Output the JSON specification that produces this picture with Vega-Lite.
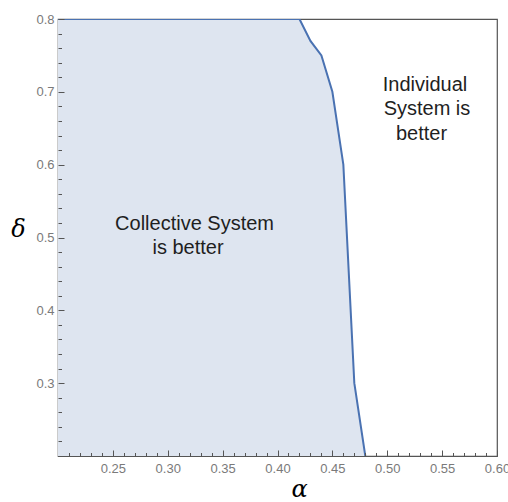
{
  "$schema": "https://vega.github.io/schema/vega-lite/v6.json",
  "width": 439,
  "height": 437,
  "autosize": "none",
  "padding": {"left": 58, "top": 19, "right": 11, "bottom": 46},
  "config": {
    "view": {"stroke": "#555555", "strokeWidth": 1.2},
    "font": "Liberation Sans"
  },
  "datasets": {
    "curve": [
      {"alpha": 0.2, "delta": 0.8},
      {"alpha": 0.42, "delta": 0.8},
      {"alpha": 0.43, "delta": 0.77},
      {"alpha": 0.44, "delta": 0.75},
      {"alpha": 0.45, "delta": 0.7},
      {"alpha": 0.46, "delta": 0.6},
      {"alpha": 0.47, "delta": 0.3},
      {"alpha": 0.48, "delta": 0.2}
    ],
    "labels": [
      {"alpha": 0.3244, "delta": 0.518, "label": "Collective System"},
      {"alpha": 0.3185, "delta": 0.4854, "label": "is better"},
      {"alpha": 0.5344, "delta": 0.709, "label": "Individual"},
      {"alpha": 0.5362, "delta": 0.676, "label": "System is"},
      {"alpha": 0.5312, "delta": 0.642, "label": "better"}
    ]
  },
  "resolve": {"axis": {"x": "independent", "y": "independent"}},
  "layer": [
    {
      "data": {"name": "curve"},
      "mark": {"type": "area", "color": "#dee5f0", "clip": true},
      "encoding": {
        "x": {
          "field": "alpha",
          "type": "quantitative",
          "scale": {"domain": [0.2, 0.6], "nice": false, "zero": false},
          "axis": {
            "orient": "bottom",
            "zindex": 1,
            "offset": -6,
            "domain": false,
            "title": "α",
            "titleFont": "DejaVu Serif",
            "titleFontStyle": "italic",
            "titleFontWeight": "normal",
            "titleFontSize": 24,
            "titleColor": "#000",
            "titleAngle": 0,
            "titleX": 241,
            "titleY": 39,
            "titleAlign": "center",
            "titleBaseline": "middle",
            "grid": false,
            "tickColor": "#555555",
            "values": [0.25, 0.3, 0.35, 0.4, 0.45, 0.5, 0.55, 0.6],
            "tickSize": 6,
            "format": ".2f",
            "labelColor": "#7a7a7a",
            "labelFontSize": 13,
            "labelPadding": 6,
            "labelFlush": false,
            "labelOverlap": false
          }
        },
        "y": {
          "field": "delta",
          "type": "quantitative",
          "scale": {"domain": [0.2, 0.8], "nice": false, "zero": false},
          "axis": {
            "orient": "left",
            "zindex": 1,
            "offset": -6,
            "domain": false,
            "title": "δ",
            "titleFont": "DejaVu Serif",
            "titleFontStyle": "italic",
            "titleFontWeight": "normal",
            "titleFontSize": 24,
            "titleColor": "#000",
            "titleAngle": 0,
            "titleX": -46,
            "titleY": 210,
            "titleAlign": "center",
            "titleBaseline": "middle",
            "grid": false,
            "tickColor": "#555555",
            "values": [0.3, 0.4, 0.5, 0.6, 0.7, 0.8],
            "tickSize": 6,
            "format": ".1f",
            "labelColor": "#7a7a7a",
            "labelFontSize": 13,
            "labelPadding": 4,
            "labelFlush": false,
            "labelOverlap": false
          }
        },
        "y2": {"datum": 0.2}
      }
    },
    {
      "data": {"name": "curve"},
      "mark": {"type": "line", "color": "#4a72b2", "strokeWidth": 2, "clip": true},
      "encoding": {
        "x": {
          "field": "alpha",
          "type": "quantitative",
          "axis": {
            "orient": "bottom",
            "zindex": 1,
            "offset": -3.5,
            "title": null,
            "grid": false,
            "domain": false,
            "labels": false,
            "tickColor": "#555555",
            "tickSize": 3.5,
            "values": [0.21,0.22,0.23,0.24,0.26,0.27,0.28,0.29,0.31,0.32,0.33,0.34,0.36,0.37,0.38,0.39,0.41,0.42,0.43,0.44,0.46,0.47,0.48,0.49,0.51,0.52,0.53,0.54,0.56,0.57,0.58,0.59]
          }
        },
        "y": {
          "field": "delta",
          "type": "quantitative",
          "axis": {
            "orient": "left",
            "zindex": 1,
            "offset": -3.5,
            "title": null,
            "grid": false,
            "domain": false,
            "labels": false,
            "tickColor": "#555555",
            "tickSize": 3.5,
            "values": [0.22,0.24,0.26,0.28,0.32,0.34,0.36,0.38,0.42,0.44,0.46,0.48,0.52,0.54,0.56,0.58,0.62,0.64,0.66,0.68,0.72,0.74,0.76,0.78]
          }
        }
      }
    },
    {
      "data": {"name": "labels"},
      "mark": {"type": "text", "fontSize": 20, "color": "#1f1f1f", "align": "center", "baseline": "middle"},
      "encoding": {
        "x": {"field": "alpha", "type": "quantitative", "axis": null},
        "y": {"field": "delta", "type": "quantitative", "axis": null},
        "text": {"field": "label"}
      }
    }
  ]
}
